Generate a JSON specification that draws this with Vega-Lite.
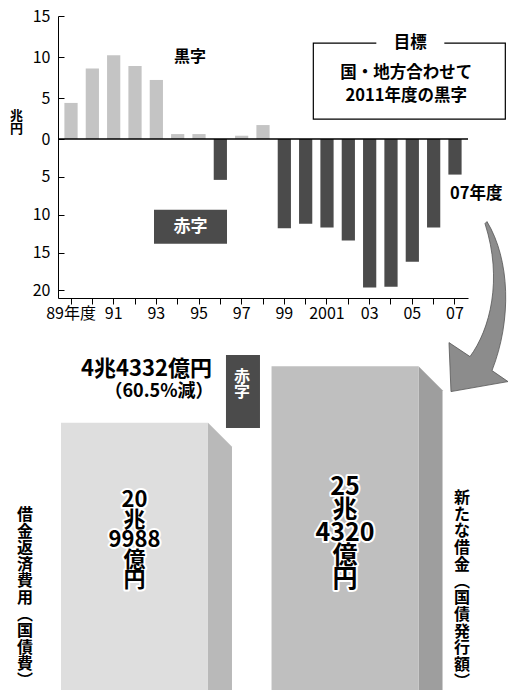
{
  "$schema": "https://vega.github.io/schema/vega-lite/v6.json",
  "background": "white",
  "padding": {"left": 9, "top": 8, "right": 0, "bottom": 0},
  "bounds": "flush",
  "spacing": 42,
  "config": {
    "font": "Noto Sans CJK JP",
    "view": {"stroke": null},
    "text": {"font": "Noto Sans CJK JP", "color": "black"}
  },
  "datasets": {
    "balance": [
      {"year": 1989, "value": 4.4},
      {"year": 1990, "value": 8.6},
      {"year": 1991, "value": 10.2},
      {"year": 1992, "value": 8.9},
      {"year": 1993, "value": 7.2},
      {"year": 1994, "value": 0.6},
      {"year": 1995, "value": 0.6},
      {"year": 1996, "value": -5.4},
      {"year": 1997, "value": 0.4},
      {"year": 1998, "value": 1.7},
      {"year": 1999, "value": -11.8},
      {"year": 2000, "value": -11.2},
      {"year": 2001, "value": -11.7},
      {"year": 2002, "value": -13.4},
      {"year": 2003, "value": -19.6},
      {"year": 2004, "value": -19.5},
      {"year": 2005, "value": -16.2},
      {"year": 2006, "value": -11.7},
      {"year": 2007, "value": -4.7}
    ],
    "breakdown": [
      {"item": "借金返済費用（国債費）", "value": 20.9988, "label": "20\n兆\n9988\n億\n円", "vlabel": "借\n金\n返\n済\n費\n用\n︵\n国\n債\n費\n︶"},
      {"item": "新たな借金（国債発行額）", "value": 25.432, "label": "25\n兆\n4320\n億\n円", "vlabel": "新\nた\nな\n借\n金\n︵\n国\n債\n発\n行\n額\n︶"}
    ]
  },
  "vconcat": [
    {
      "width": 410,
      "height": 282,
      "layer": [
        {
          "data": {"name": "balance"},
          "mark": {"type": "bar"},
          "encoding": {
            "x": {
              "field": "year", "type": "ordinal",
              "scale": {"type": "band", "paddingInner": 0.38, "paddingOuter": 0.3},
              "axis": {
                "title": null,
                "labelExpr": "datum.value == 1989 ? '89年度' : datum.value == 2001 ? '2001' : datum.value % 2 == 1 ? substring(toString(datum.value), 2) : ''",
                "labelAngle": 0, "labelFontSize": 16, "labelColor": "black", "labelPadding": 1,
                "labelFont": "Noto Sans CJK JP",
                "tickColor": "black", "tickSize": 6, "domainColor": "black",
                "labelOverlap": false, "labelBound": false, "labelFlush": false, "grid": false
              }
            },
            "y": {
              "field": "value", "type": "quantitative",
              "scale": {"domain": [-21, 0, 15], "range": [282, 123, 0], "nice": false, "zero": false},
              "axis": {
                "title": ["兆", "円"], "titleAngle": 0, "titleX": -42, "titleY": 93,
                "titleAlign": "center", "titleBaseline": "top", "titleFontSize": 13,
                "titleLineHeight": 13.5, "titleFontWeight": "bold", "titleFont": "Noto Sans CJK JP",
                "values": [15, 10, 5, 0, -5, -10, -15, -20],
                "labelExpr": "'' + abs(datum.value)",
                "labelFontSize": 16, "labelColor": "black", "labelFont": "Noto Sans CJK JP",
                "tickSize": -6, "tickColor": "black", "labelPadding": 14,
                "domainColor": "black", "grid": false
              }
            },
            "color": {"condition": {"test": "datum.value < 0", "value": "#4b4b4b"}, "value": "#c4c4c4"}
          }
        },
        {
          "data": {"values": [{}]},
          "mark": {"type": "rule", "color": "black", "strokeWidth": 1.5},
          "encoding": {"y": {"datum": 0}}
        },
        {
          "data": {"values": [{}]},
          "mark": {"type": "text", "text": "黒字", "fontSize": 16, "fontWeight": "bold", "dx": -9},
          "encoding": {"x": {"datum": 1995, "type": "ordinal"}, "y": {"datum": 10}}
        },
        {
          "data": {"values": [{}]},
          "mark": {"type": "point", "shape": "M -36.5 -17 H 36.5 V 17 H -36.5 Z", "size": 4, "filled": true, "color": "#4b4b4b", "opacity": 1, "xOffset": -8.5},
          "encoding": {"x": {"datum": 1995, "type": "ordinal"}, "y": {"datum": -11.6}}
        },
        {
          "data": {"values": [{}]},
          "mark": {"type": "text", "text": "赤字", "fontSize": 17, "fontWeight": "bold", "color": "white", "dx": -8.5},
          "encoding": {"x": {"datum": 1995, "type": "ordinal"}, "y": {"datum": -11.6}}
        },
        {
          "data": {"values": [{}]},
          "mark": {"type": "point", "shape": "M -96 -38 H 96 V 38 H -96 Z", "size": 4, "filled": false, "stroke": "black", "strokeWidth": 1.2, "opacity": 1, "xOffset": -3},
          "encoding": {"x": {"datum": 2005, "type": "ordinal"}, "y": {"datum": 7.07}}
        },
        {
          "data": {"values": [{}]},
          "mark": {"type": "point", "shape": "M -34 -7 H 34 V 7 H -34 Z", "size": 4, "filled": true, "color": "white", "opacity": 1, "xOffset": -2},
          "encoding": {"x": {"datum": 2005, "type": "ordinal"}, "y": {"datum": 11.65}}
        },
        {
          "data": {"values": [{}]},
          "mark": {"type": "text", "text": "目標", "fontSize": 16.5, "fontWeight": "bold", "dx": -2},
          "encoding": {"x": {"datum": 2005, "type": "ordinal"}, "y": {"datum": 11.65}}
        },
        {
          "data": {"values": [{}]},
          "mark": {"type": "text", "text": ["国・地方合わせて", "2011年度の黒字"], "fontSize": 16.5, "fontWeight": "bold", "lineHeight": 23, "baseline": "top", "dx": -6},
          "encoding": {"x": {"datum": 2005, "type": "ordinal"}, "y": {"datum": 9.02}}
        },
        {
          "data": {"values": [{}]},
          "mark": {"type": "text", "text": "07年度", "fontSize": 16.5, "fontWeight": "bold", "align": "left", "dx": -5},
          "encoding": {"x": {"datum": 2007, "type": "ordinal"}, "y": {"datum": -7.3}}
        },
        {
          "data": {"values": [{}]},
          "mark": {"type": "point", "shape": "M 32 47 C 55 85 57 145 37 196 L 53 207 L -4 217 L -6 168 L 15 182 C 35 155 48 105 30 49 Z", "size": 4, "filled": true, "color": "#8c8c8c", "stroke": "#555555", "strokeWidth": 0.8, "opacity": 1},
          "encoding": {"x": {"datum": 2007, "type": "ordinal"}, "y": {"datum": -4.7}}
        }
      ]
    },
    {
      "width": 451,
      "height": 350,
      "layer": [
        {
          "data": {"name": "breakdown"},
          "mark": {"type": "point", "shape": "M 0 0 L 24 24 L 24 400 L 0 400 Z", "size": 4, "filled": true, "opacity": 1, "strokeWidth": 0, "xOffset": 73.5},
          "encoding": {
            "x": {"field": "item", "type": "nominal", "sort": null, "scale": {"type": "band", "paddingInner": 0.302, "paddingOuter": 0.222, "align": 0.032}, "axis": null},
            "y": {"field": "value", "type": "quantitative", "scale": {"domain": [0, 27.5], "nice": false}, "axis": null},
            "color": {"condition": {"test": "datum.value > 23", "value": "#9e9e9e"}, "value": "#b9b9b9"}
          }
        },
        {
          "data": {"name": "breakdown"},
          "mark": {"type": "bar"},
          "encoding": {
            "x": {"field": "item", "type": "nominal", "sort": null},
            "y": {"field": "value", "type": "quantitative"},
            "color": {"condition": {"test": "datum.value > 23", "value": "#bfbfbf"}, "value": "#dedede"}
          }
        },
        {
          "data": {"name": "breakdown"},
          "transform": [{"filter": "datum.value < 23"}],
          "mark": {"type": "text", "lineBreak": "\n", "fontSize": 22, "lineHeight": 20, "fontWeight": "bold", "baseline": "top", "stroke": "white", "strokeWidth": 4, "strokeJoin": "round", "color": "white"},
          "encoding": {"x": {"field": "item", "type": "nominal", "sort": null}, "y": {"datum": 15.71}, "text": {"field": "label"}}
        },
        {
          "data": {"name": "breakdown"},
          "transform": [{"filter": "datum.value < 23"}],
          "mark": {"type": "text", "lineBreak": "\n", "fontSize": 22, "lineHeight": 20, "fontWeight": "bold", "baseline": "top", "color": "black"},
          "encoding": {"x": {"field": "item", "type": "nominal", "sort": null}, "y": {"datum": 15.71}, "text": {"field": "label"}}
        },
        {
          "data": {"name": "breakdown"},
          "transform": [{"filter": "datum.value > 23"}],
          "mark": {"type": "text", "lineBreak": "\n", "fontSize": 25, "lineHeight": 23, "fontWeight": "bold", "baseline": "top", "stroke": "white", "strokeWidth": 4, "strokeJoin": "round", "color": "white"},
          "encoding": {"x": {"field": "item", "type": "nominal", "sort": null}, "y": {"datum": 16.89}, "text": {"field": "label"}}
        },
        {
          "data": {"name": "breakdown"},
          "transform": [{"filter": "datum.value > 23"}],
          "mark": {"type": "text", "lineBreak": "\n", "fontSize": 25, "lineHeight": 23, "fontWeight": "bold", "baseline": "top", "color": "black"},
          "encoding": {"x": {"field": "item", "type": "nominal", "sort": null}, "y": {"datum": 16.89}, "text": {"field": "label"}}
        },
        {
          "data": {"name": "breakdown"},
          "transform": [{"filter": "datum.value < 23"}],
          "mark": {"type": "text", "lineBreak": "\n", "fontSize": 16, "lineHeight": 16.6, "fontWeight": "bold", "baseline": "top", "dx": -109.5},
          "encoding": {"x": {"field": "item", "type": "nominal", "sort": null}, "y": {"datum": 14.38}, "text": {"field": "vlabel"}}
        },
        {
          "data": {"name": "breakdown"},
          "transform": [{"filter": "datum.value > 23"}],
          "mark": {"type": "text", "lineBreak": "\n", "fontSize": 16, "lineHeight": 16.7, "fontWeight": "bold", "baseline": "top", "dx": 117},
          "encoding": {"x": {"field": "item", "type": "nominal", "sort": null}, "y": {"datum": 15.71}, "text": {"field": "vlabel"}}
        },
        {
          "data": {"values": [{}]},
          "mark": {"type": "text", "text": "4兆4332億円", "fontSize": 22, "fontWeight": "bold", "align": "right", "dx": 77.5},
          "encoding": {"x": {"datum": "借金返済費用（国債費）", "type": "nominal"}, "y": {"datum": 25.22}}
        },
        {
          "data": {"values": [{}]},
          "mark": {"type": "text", "text": "（60.5%減）", "fontSize": 18, "fontWeight": "bold", "align": "right", "dx": 79},
          "encoding": {"x": {"datum": "借金返済費用（国債費）", "type": "nominal"}, "y": {"datum": 23.43}}
        },
        {
          "data": {"values": [{}]},
          "mark": {"type": "point", "shape": "M -17 -36.5 H 17 V 36.5 H -17 Z", "size": 4, "filled": true, "color": "#4b4b4b", "opacity": 1, "xOffset": 108.5},
          "encoding": {"x": {"datum": "借金返済費用（国債費）", "type": "nominal"}, "y": {"datum": 23.45}}
        },
        {
          "data": {"values": [{}]},
          "mark": {"type": "text", "text": ["赤", "字"], "fontSize": 16, "lineHeight": 15.5, "fontWeight": "bold", "color": "white", "dx": 107.5},
          "encoding": {"x": {"datum": "借金返済費用（国債費）", "type": "nominal"}, "y": {"datum": 24.63}}
        }
      ]
    }
  ]
}
